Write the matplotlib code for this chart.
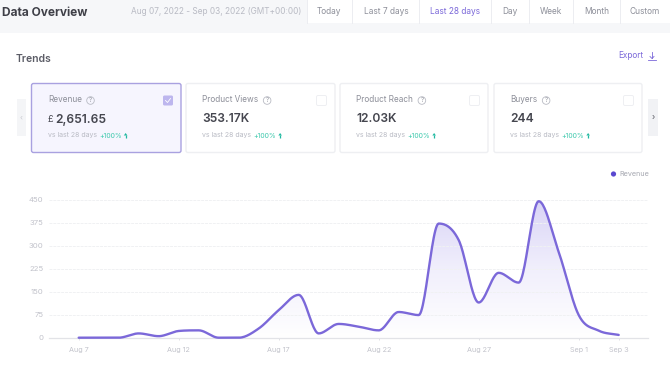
import numpy as np
import matplotlib
matplotlib.use("Agg")
import matplotlib.pyplot as plt
from matplotlib.patches import FancyBboxPatch, Rectangle, Polygon, Circle

plt.rcParams['font.family'] = ['Inter', 'DejaVu Sans']

W, H = 670, 369

# -------------------------------
# DATA
# -------------------------------
days = np.arange(28)
revenue = [0, 0, 0, 14, 5, 22, 24, 0, 0, 30, 90, 140, 14, 45, 36, 24, 84, 74,
           373, 319, 115, 212, 180, 446, 280, 74, 23, 9]
y_ticks = [0, 75, 150, 225, 300, 375, 450]
x_tick_pos = [0, 5, 10, 15, 20, 25, 27]
x_tick_labels = ["Aug 7", "Aug 12", "Aug 17", "Aug 22", "Aug 27", "Sep 1", "Sep 3"]
tabs = ["Today", "Last 7 days", "Last 28 days", "Day", "Week", "Month", "Custom"]
tab_centers = [329, 386, 455, 510, 551, 597, 645]
tab_edges = [307, 352, 419, 491, 529, 573, 620]
card_titles = ["Revenue", "Product Views", "Product Reach", "Buyers"]
card_values = ["2,651.65", "353.17K", "12.03K", "244"]
card_left = [31.5, 186, 340, 494]
card_right = [181, 335, 488, 642]

PURPLE = "#7b68d9"
GREY = "#8d8f99"
LIGHT = "#b9bbc4"
DARK = "#45464f"
GREEN = "#3ec9ad"


# smooth curve through the daily values (monotone hermite, fritsch-carlson limit)
def smooth(xs, ys, n=24):
    xs = np.asarray(xs, float)
    ys = np.asarray(ys, float)
    d = np.diff(ys) / np.diff(xs)
    m = np.zeros_like(ys)
    for i in range(1, len(ys) - 1):
        if d[i - 1] * d[i] > 0:
            lim = 3 * min(abs(d[i - 1]), abs(d[i]))
            m[i] = np.sign(d[i]) * min(abs(d[i - 1] + d[i]) / 2, lim)
    m[0], m[-1] = d[0], d[-1]
    out_x, out_y = [], []
    for i in range(len(xs) - 1):
        t = np.linspace(0, 1, n, endpoint=False)
        h = xs[i + 1] - xs[i]
        out_x.append(xs[i] + t * h)
        out_y.append((2*t**3 - 3*t**2 + 1) * ys[i] + (t**3 - 2*t**2 + t) * h * m[i]
                     + (-2*t**3 + 3*t**2) * ys[i + 1] + (t**3 - t**2) * h * m[i + 1])
    out_x.append(xs[-1:])
    out_y.append(ys[-1:])
    return np.concatenate(out_x), np.concatenate(out_y)


fig = plt.figure(figsize=(W / 100, H / 100), dpi=100, facecolor="white")

# -------------------------------
# PAGE (pixel coordinates)
# -------------------------------
ui = fig.add_axes([0, 0, 1, 1])
ui.set_xlim(0, W)
ui.set_ylim(H, 0)
ui.axis("off")

ui.add_patch(Rectangle((0, 0), W, 33, fc="#f6f7f9", ec="none"))
ui.add_patch(Rectangle((307, 0), W - 307, 23, fc="white", ec="none"))
ui.text(2, 12.5, "Data Overview", fontsize=8.6, fontweight="bold", color="#3f4048", va="center")
ui.text(131, 11, "Aug 07, 2022 - Sep 03, 2022 (GMT+00:00)", fontsize=5.95, color=LIGHT, va="center")

for i, label in enumerate(tabs):
    color = PURPLE if label == "Last 28 days" else GREY
    ui.text(tab_centers[i], 11, label, fontsize=6, color=color, ha="center", va="center")
    ui.plot([tab_edges[i]] * 2, [0, 23], color="#eceDF1", lw=0.7)

ui.text(16, 59, "Trends", fontsize=7.5, fontweight="semibold", color="#5b5c66", va="center")
ui.text(618, 56, "Export", fontsize=5.9, color=PURPLE, va="center")
ui.plot([652, 652], [52, 58], color=PURPLE, lw=0.6)
ui.plot([650, 652, 654], [56.5, 58.5, 56.5], color=PURPLE, lw=0.6)
ui.plot([648, 656], [60, 60], color=PURPLE, lw=0.6)

# arrows either side of the cards
ui.add_patch(Rectangle((17, 99), 9, 37, fc="#f4f5f7", ec="none"))
ui.add_patch(Rectangle((648, 99), 10, 37, fc="#f1f2f5", ec="none"))
ui.text(21.5, 117.5, "‹", fontsize=5.5, color="#c9cad0", ha="center", va="center")
ui.text(653, 117.5, "›", fontsize=6, color="#55565f", ha="center", va="center")

# cards
renderer = fig.canvas.get_renderer()
for i, title in enumerate(card_titles):
    x0, x1 = card_left[i], card_right[i]
    active = i == 0
    ui.add_patch(FancyBboxPatch((x0, 83.5), x1 - x0, 69, boxstyle="round,pad=0,rounding_size=2",
                                fc="#f6f5fe" if active else "white",
                                ec="#a9a1e0" if active else "#eeeff2", lw=1.0))
    tx = x0 + 16.5
    t = ui.text(tx, 100, title, fontsize=5.9, color=GREY, va="center")
    tw = t.get_window_extent(renderer).width
    ui.add_patch(Circle((tx + tw + 8.5, 100.5), 3.8, fc="none", ec=LIGHT, lw=0.6))
    ui.text(tx + tw + 8.5, 100.5, "?", fontsize=4.4, color=GREY, ha="center", va="center")
    if active:
        ui.text(tx, 119.5, "£", fontsize=6.5, color=DARK, va="center")
        ui.text(tx + 7, 119.5, card_values[i], fontsize=8.7, fontweight="semibold", color=DARK, va="center")
        ui.add_patch(FancyBboxPatch((163, 95.5), 10, 10, boxstyle="round,pad=0,rounding_size=1.5",
                                    fc="#bdb6ee", ec="none"))
        ui.plot([165.5, 167.5, 170.5], [100.5, 102.5, 98.5], color="white", lw=0.6)
    else:
        ui.text(tx, 119.5, card_values[i], fontsize=8.7, fontweight="semibold", color=DARK, va="center")
        ui.add_patch(FancyBboxPatch((x1 - 18.5, 95.5), 10, 10, boxstyle="round,pad=0,rounding_size=1.5",
                                    fc="white", ec="#eeeff2", lw=0.7))
    t = ui.text(tx, 135.5, "vs last 28 days", fontsize=5.0, color=LIGHT, va="center")
    tw = t.get_window_extent(renderer).width
    t = ui.text(tx + tw + 2, 135.5, "+100%", fontsize=5.0, color=GREEN, va="center")
    tw2 = t.get_window_extent(renderer).width
    ax_ = tx + tw + 2 + tw2 + 4
    ui.add_patch(Polygon([[ax_ - 1.8, 135.5], [ax_, 133], [ax_ + 1.8, 135.5]], fc="#1fb9a0", ec="none"))
    ui.plot([ax_, ax_], [135.3, 138], color="#1fb9a0", lw=0.9, solid_capstyle="butt")

# legend
ui.add_patch(Circle((613.5, 174), 2.6, fc="#5a48d0", ec="none"))
ui.text(619, 174, "Revenue", fontsize=5.2, color="#a6a8b1", va="center")

# -------------------------------
# CHART
# -------------------------------
px_left, px_right = 49, 648
px_top, px_bottom = 200, 337.7
ax = fig.add_axes([px_left / W, 1 - px_bottom / H, (px_right - px_left) / W, (px_bottom - px_top) / H])
ax.patch.set_alpha(0)

sx, sy = smooth(days, revenue)

grad = np.linspace(0, 1, 256).reshape(-1, 1)
cmap = matplotlib.colors.LinearSegmentedColormap.from_list("fade", ["#ffffff", "#f1effc", "#d9d4f6"])
im = ax.imshow(grad, extent=[sx[0], sx[-1], 0, 450], origin="lower", cmap=cmap, aspect="auto", zorder=1)
clip = Polygon(np.column_stack([np.r_[sx[0], sx, sx[-1]], np.r_[0, sy, 0]]), transform=ax.transData, fc="none", ec="none")
ax.add_patch(clip)
im.set_clip_path(clip)
ax.set_xlim((px_left - 78.7) / 20, (px_right - 78.7) / 20)
ax.set_ylim(0, 450)

ax.plot(sx, sy, color=PURPLE, lw=1.7, zorder=3, clip_on=False, solid_capstyle="round")

ax.set_yticks(y_ticks)
ax.set_xticks(x_tick_pos)
ax.set_xticklabels(x_tick_labels)
ax.tick_params(axis="y", length=0, labelsize=5.6, labelcolor="#c2c3cb", pad=4)
ax.tick_params(axis="x", length=1.5, width=0.6, color="#dcdde2", labelsize=5.2, labelcolor="#c2c3cb", pad=5)
ax.grid(axis="y", color="#f0f1f3", lw=0.7, ls=(0, (3, 1)), zorder=0)
for side in ["top", "right", "left"]:
    ax.spines[side].set_visible(False)
ax.spines["bottom"].set_color("#e2e3e7")
ax.spines["bottom"].set_linewidth(0.9)

fig.savefig("out.png", dpi=100)
